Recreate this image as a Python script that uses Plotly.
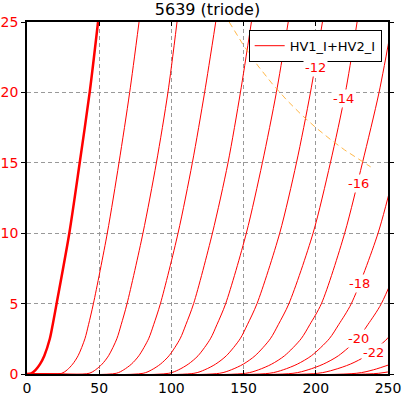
import plotly.graph_objects as go

# Plate current levels (mA) at which plate voltages were read
I_levels = [0, 0.05, 0.3, 0.7, 1.3, 2.5, 3.5, 5, 10, 15, 20, 25]

# Grid voltages and plate voltage readings (V) per curve
grid_volts = [0, -2, -4, -6, -8, -10, -12, -14, -16, -18, -20, -22, -24, -26]
va_g0 = [0, 3.0, 6.0, 9.0, 12.0, 15.8, 17.8, 20.5, 29.3, 36.5, 43.4, 49.2]
va_g2 = [0, 24.1, 27.9, 31.6, 35.4, 40.1, 42.6, 46.0, 55.6, 63.7, 71.1, 77.6]
va_g4 = [0, 43.0, 47.5, 52.0, 56.5, 62.2, 65.2, 69.3, 80.3, 89.6, 97.6, 103.9]
va_g6 = [0, 61.8, 67.0, 72.3, 77.5, 84.2, 87.7, 92.4, 104.6, 114.5, 123.0, 130.7]
va_g8 = [0, 80.4, 86.4, 92.4, 98.4, 106.0, 110.0, 115.4, 128.4, 139.2, 147.8, 155.4]
va_g10 = [0, 98.2, 105.0, 111.7, 118.5, 127.0, 131.5, 137.6, 151.9, 163.0, 172.7, 180.9]
va_g12 = [0, 115.6, 123.1, 130.6, 138.1, 147.6, 152.6, 159.3, 175.0, 186.6, 196.3, 204.6]
va_g14 = [0, 133.3, 141.5, 149.8, 158.0, 168.5, 174.0, 181.4, 198.1, 210.1, 220.5, 228.6]
va_g16 = [0, 151.4, 160.4, 169.4, 178.4, 189.8, 195.8, 203.9, 220.0, 232.3, 243.8, 253.0]
va_g18 = [0, 167.7, 177.5, 187.2, 197.0, 209.3, 215.8, 224.6, 243.1, 256.0]
va_g20 = [0, 184.2, 194.7, 205.2, 215.7, 229.0, 236.0, 245.4, 266.0]
va_g22 = [0, 201.4, 212.6, 223.9, 235.1, 249.4, 256.9]
va_g24 = [0, 228.0, 240.0, 252.0]
va_g26 = [0, 243.6, 256.4]
curves = [va_g0, va_g2, va_g4, va_g6, va_g8, va_g10, va_g12, va_g14,
          va_g16, va_g18, va_g20, va_g22, va_g24, va_g26]

# Curve labels (grid voltage) and where they sit (V, mA)
label_text = ["-12", "-14", "-16", "-18", "-20", "-22"]
label_v = [199.9, 219.3, 229.4, 230.3, 229.7, 240.1]
label_i = [21.8, 19.6, 13.5, 6.45, 2.5, 1.56]

# Max dissipation line (3.5 W)
pd_v = [140, 150, 160, 170, 180, 190, 200, 210, 220, 230, 238]
pd_i = [25.0, 23.33, 21.88, 20.59, 19.44, 18.42, 17.5, 16.67, 15.91, 15.22, 14.71]

FONT = "DejaVu Sans"
fig = go.Figure()

for k, (g, va) in enumerate(zip(grid_volts, curves)):
    ia = I_levels[:len(va)]
    fig.add_trace(go.Scatter(
        x=va, y=ia, mode="lines",
        line=dict(color="red", width=2.5 if g == 0 else 1, shape="spline", smoothing=0.8),
        name="HV1_I+HV2_I", legendgroup="hv",
        showlegend=(k == 1), hoverinfo="skip"))

fig.add_trace(go.Scatter(
    x=pd_v, y=pd_i, mode="lines",
    line=dict(color="rgba(255,170,40,0.85)", width=1, dash="6px,4px"),
    showlegend=False, hoverinfo="skip"))

for t, v, i in zip(label_text, label_v, label_i):
    fig.add_annotation(x=v, y=i, xref="x", yref="y", text=t, showarrow=False,
                       font=dict(family=FONT, size=13, color="red"),
                       bgcolor="white", borderpad=1)

fig.update_layout(
    width=403, height=396,
    margin=dict(l=27, r=15, t=22, b=22, autoexpand=False),
    paper_bgcolor="white", plot_bgcolor="white",
    font=dict(family=FONT, size=14, color="black"),
    title=dict(text="5639 (triode)", x=0.5, xref="paper", xanchor="center",
               y=1 - 9 / 396, yref="container", yanchor="middle",
               font=dict(family=FONT, size=16, color="black")),
    legend=dict(x=0.9825, xanchor="right", y=0.978, yanchor="top",
                bgcolor="white", bordercolor="black", borderwidth=1,
                itemwidth=30, tracegroupgap=0,
                font=dict(family=FONT, size=13, color="black")),
    showlegend=True,
)
fig.update_xaxes(range=[0, 250], tickvals=[0, 50, 100, 150, 200, 250], automargin=False,
                 showgrid=True, gridcolor="#999999", griddash="4px,3px", gridwidth=1,
                 showline=True, linecolor="black", linewidth=1.5, mirror="ticks",
                 ticks="inside", ticklen=4, tickcolor="black",
                 tickfont=dict(family=FONT, size=14, color="black"), zeroline=False)
fig.update_yaxes(range=[0, 25], tickvals=[0, 5, 10, 15, 20, 25], automargin=False,
                 showgrid=True, gridcolor="#999999", griddash="4px,3px", gridwidth=1,
                 showline=True, linecolor="black", linewidth=1.5, mirror="ticks",
                 ticks="outside", ticklen=4, tickcolor="black",
                 tickfont=dict(family=FONT, size=14, color="red"), zeroline=False)

fig.write_html("out.html", post_script="document.body.style.margin='0';",
               config={"displayModeBar": False})
